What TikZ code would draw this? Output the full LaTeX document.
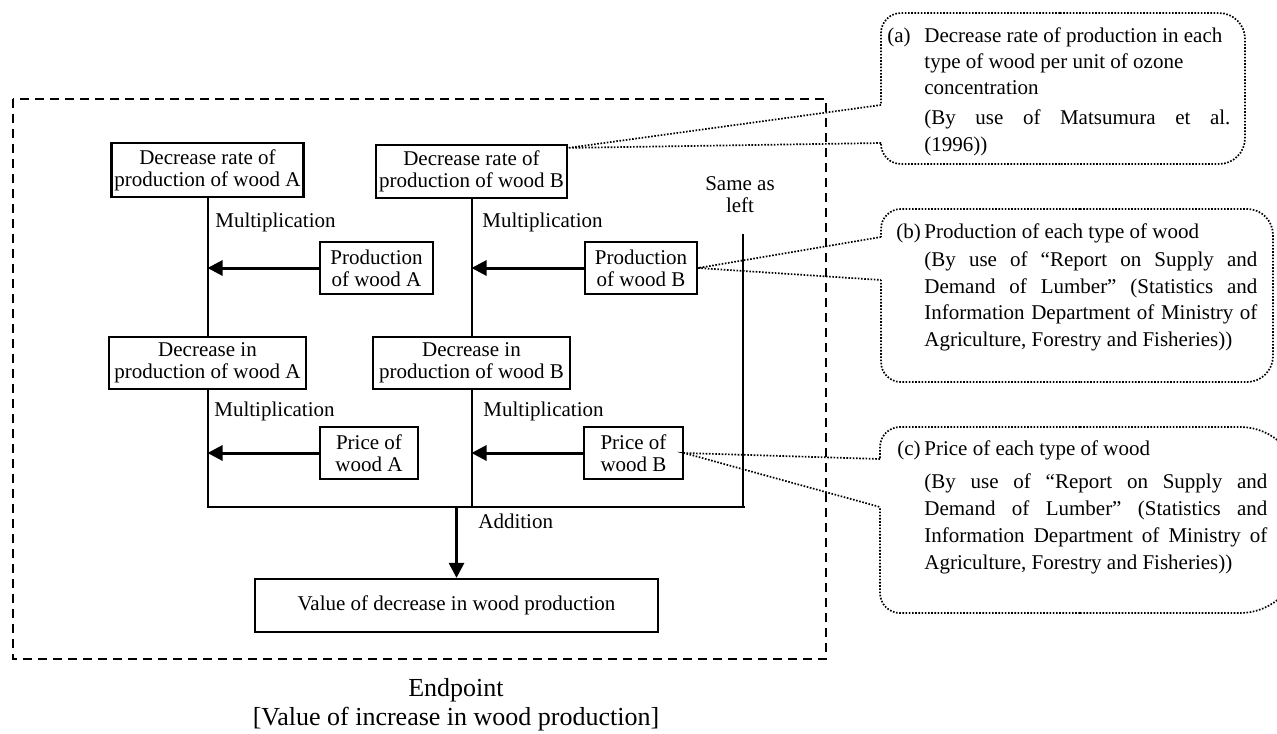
\documentclass[tikz,border=0pt]{standalone}
\usepackage{fontspec}
\setmainfont{Liberation Serif}
\usetikzlibrary{arrows.meta}
% a line stretched to the full width of the surrounding parbox
\newcommand{\jl}[1]{\makebox[\linewidth][s]{#1}}
\begin{document}
\begin{tikzpicture}[x=0.5pt,y=-0.5pt,
  txt/.style={font=\fontsize{10.5}{11}\selectfont, inner sep=0pt},
  bx/.style 2 args={draw, line width=1.1pt, txt, align=center,
    minimum width=#1*0.5pt, minimum height=#2*0.5pt},
  ln/.style={line width=1pt},
  arr/.style={line width=1.5pt, -{Triangle[length=7.5pt,width=7.5pt]}},
  frame/.style={line width=1pt, dash pattern=on 4.5pt off 3pt},
  dots/.style={line width=0.85pt, dash pattern=on 0.8pt off 0.8pt},
  lbl/.style={txt, anchor=base west},
  big/.style={font=\fontsize{13}{15}\selectfont, inner sep=0pt, anchor=base}
]
\useasboundingbox (0,0) rectangle (1277,733);

% outer dashed frame
\draw[frame] (13,99) rectangle (826,659);

% boxes
\node[bx={192}{54}] (A1) at (207.5,170) {Decrease rate of\\production of wood A};
\node[bx={191}{53}] (B1) at (471.5,171.5) {Decrease rate of\\production of wood B};
\node[bx={113}{52}] (PA) at (376.5,268) {Production\\of wood A};
\node[bx={112}{52}] (PB) at (641,268) {Production\\of wood B};
\node[bx={197}{52}] (A2) at (207.5,363) {Decrease in\\production of wood A};
\node[bx={197}{52}] (B2) at (471.5,363) {Decrease in\\production of wood B};
\node[bx={98}{52}] (PrA) at (369,453) {Price of\\wood A};
\node[bx={99}{52}] (PrB) at (633.5,453) {Price of\\wood B};
\node[bx={403}{53}] (V) at (456.5,605.5) {Value of decrease in wood production};

% connecting lines
\coordinate (busL) at (207.5,507);
\coordinate (busR) at (745,507);
\coordinate (same) at (743,234);
\draw[ln] (A1.south) -- (A2.north);
\draw[ln] (B1.south) -- (B2.north);
\draw[ln] (A2.south) -- (A2.south |- busL) -- (busR);
\draw[ln] (B2.south) -- (B2.south |- busL);
\draw[ln] (same) -- (same |- busL);

% arrows
\draw[arr] (PA.west) -- (PA.west -| A1.south);
\draw[arr] (PB.west) -- (PB.west -| B1.south);
\draw[arr] (PrA.west) -- (PrA.west -| A2.south);
\draw[arr] (PrB.west) -- (PrB.west -| B2.south);
\draw[arr] (V.north |- busL) -- (V.north);

% labels
\node[lbl] (m1) at (215,227) {Multiplication};
\node[lbl] (m2) at (482,227) {Multiplication};
\node[lbl] (m3) at (214,416) {Multiplication};
\node[lbl] (m4) at (483,416) {Multiplication};
\node[txt, align=center] (sal) at (740,195) {Same as\\left};
\node[lbl] (add) at (478,528) {Addition};
\node[big] (ep1) at (456,696) {Endpoint};
\node[big] (ep2) at (456,725) {[Value of increase in wood production]};

% callout (a)
\coordinate (aU) at (881,105);
\coordinate (aL) at (881,143);
\draw[dots, rounded corners=10pt] (1060,13) -- (881,13) -- (aU);
\draw[dots, rounded corners=13pt] (1060,13) -- (1245,13) -- (1245,164) -- (1060,164);
\draw[dots, rounded corners=10pt] (1060,164) -- (881,164) -- (aL);
\draw[dots] (aU) -- ([yshift=-2pt]B1.north east) -- (aL);
\node[lbl] (la) at (887,43) {(a)};
\node[lbl] (ta) at (924,43) {\parbox[t]{153pt}{\fontsize{10.5}{13}\selectfont
  Decrease rate of production in each\\
  type of wood per unit of ozone\\
  concentration\\[1.5pt]
  \jl{(By use of Matsumura et al.}\\[1pt]
  (1996))}};

% callout (b)
\coordinate (bU) at (881,237);
\coordinate (bL) at (881,280);
\draw[dots, rounded corners=10pt] (1080,209) -- (881,209) -- (bU);
\draw[dots, rounded corners=13pt] (1080,209) -- (1273,209) -- (1273,382) -- (1080,382);
\draw[dots, rounded corners=10pt] (1080,382) -- (881,382) -- (bL);
\draw[dots] (bU) -- (PB.east) -- (bL);
\node[lbl] (lb) at (896,238) {(b)};
\node[lbl] (tb) at (924,238) {\parbox[t]{166.5pt}{\fontsize{10.5}{13.3}\selectfont
  Production of each type of wood\\[1pt]
  \jl{(By use of “Report on Supply and}\\
  \jl{Demand of Lumber” (Statistics and}\\
  \jl{Information Department of Ministry of}\\
  Agriculture, Forestry and Fisheries))}};

% callout (c)
\coordinate (cU) at (880,459);
\coordinate (cL) at (880,507);
\draw[dots, rounded corners=10pt] (1080,427) -- (880,427) -- (cU);
\begin{scope}
  \clip (0,0) rectangle (1277,733);
  \draw[dots, rounded corners=30pt] (1080,427) -- (1300,427) -- (1300,613) -- (1080,613);
\end{scope}
\draw[dots, rounded corners=10pt] (1080,613) -- (880,613) -- (cL);
\draw[dots] (cU) -- (PrB.east) -- (cL);
\node[lbl] (lc) at (897,455) {(c)};
\node[lbl] (tc) at (924,455) {\parbox[t]{171.5pt}{\fontsize{10.5}{13.6}\selectfont
  Price of each type of wood\\[3pt]
  \jl{(By use of “Report on Supply and}\\
  \jl{Demand of Lumber” (Statistics and}\\
  \jl{Information Department of Ministry of}\\
  Agriculture, Forestry and Fisheries))}};
\end{tikzpicture}
\end{document}
